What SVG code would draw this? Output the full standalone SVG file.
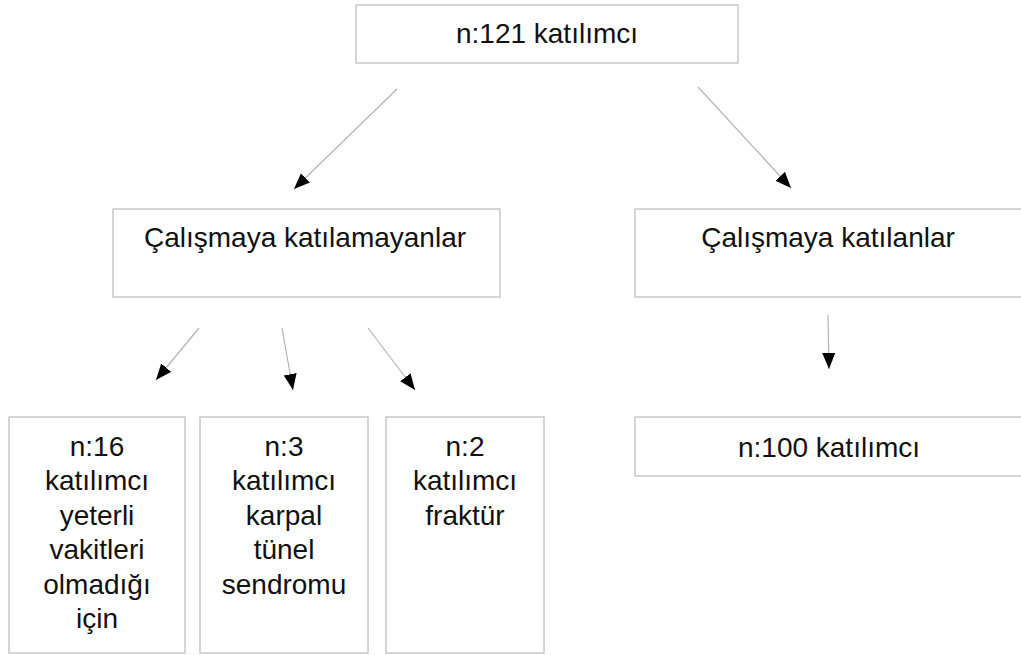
<svg xmlns="http://www.w3.org/2000/svg" width="1021" height="655" viewBox="0 0 1021 655">
  <style>
    .box { fill: #ffffff; stroke: #c8c8c8; stroke-width: 1.5; }
    .lbl { font-family: "Liberation Sans", Arial, sans-serif; font-size: 28px; fill: #111111; text-anchor: middle; }
    .conn { stroke: #b4b4b4; stroke-width: 1.2; fill: none; marker-end: url(#arrow); }
  </style>
  <defs>
    <marker id="arrow" markerUnits="userSpaceOnUse" markerWidth="17" markerHeight="14" refX="16" refY="6.5" orient="auto">
      <path d="M0,0 L16,6.5 L0,13 z" fill="#000000"/>
    </marker>
  </defs>
  <rect width="1021" height="655" fill="#ffffff"/>

  <g id="connectors">
    <line class="conn" x1="397" y1="89" x2="294" y2="189"/>
    <line class="conn" x1="698" y1="87" x2="791" y2="188"/>
    <line class="conn" x1="199" y1="328" x2="156" y2="380"/>
    <line class="conn" x1="282" y1="328" x2="293" y2="390"/>
    <line class="conn" x1="368" y1="328" x2="415" y2="390"/>
    <line class="conn" x1="828" y1="315" x2="829" y2="369"/>
  </g>

  <g id="node-top">
    <rect class="box" x="356" y="5" width="382" height="58"/>
    <text class="lbl" x="547" y="43">n:121 katılımcı</text>
  </g>

  <g id="node-excluded">
    <rect class="box" x="113" y="209" width="387" height="88"/>
    <text class="lbl" x="305" y="247">Çalışmaya katılamayanlar</text>
  </g>

  <g id="node-included">
    <rect class="box" x="635" y="209" width="388" height="88"/>
    <text class="lbl" x="828" y="247">Çalışmaya katılanlar</text>
  </g>

  <g id="node-n16">
    <rect class="box" x="9" y="417" width="176" height="236"/>
    <text class="lbl" x="97" y="456">n:16</text>
    <text class="lbl" x="97" y="490">katılımcı</text>
    <text class="lbl" x="97" y="525">yeterli</text>
    <text class="lbl" x="97" y="559">vakitleri</text>
    <text class="lbl" x="97" y="594">olmadığı</text>
    <text class="lbl" x="97" y="628">için</text>
  </g>

  <g id="node-n3">
    <rect class="box" x="200" y="417" width="168" height="236"/>
    <text class="lbl" x="284" y="456">n:3</text>
    <text class="lbl" x="284" y="490">katılımcı</text>
    <text class="lbl" x="284" y="525">karpal</text>
    <text class="lbl" x="284" y="559">tünel</text>
    <text class="lbl" x="284" y="594">sendromu</text>
  </g>

  <g id="node-n2">
    <rect class="box" x="386" y="417" width="158" height="236"/>
    <text class="lbl" x="465" y="456">n:2</text>
    <text class="lbl" x="465" y="490">katılımcı</text>
    <text class="lbl" x="465" y="525">fraktür</text>
  </g>

  <g id="node-n100">
    <rect class="box" x="635" y="417" width="388" height="59"/>
    <text class="lbl" x="829" y="457">n:100 katılımcı</text>
  </g>
</svg>
